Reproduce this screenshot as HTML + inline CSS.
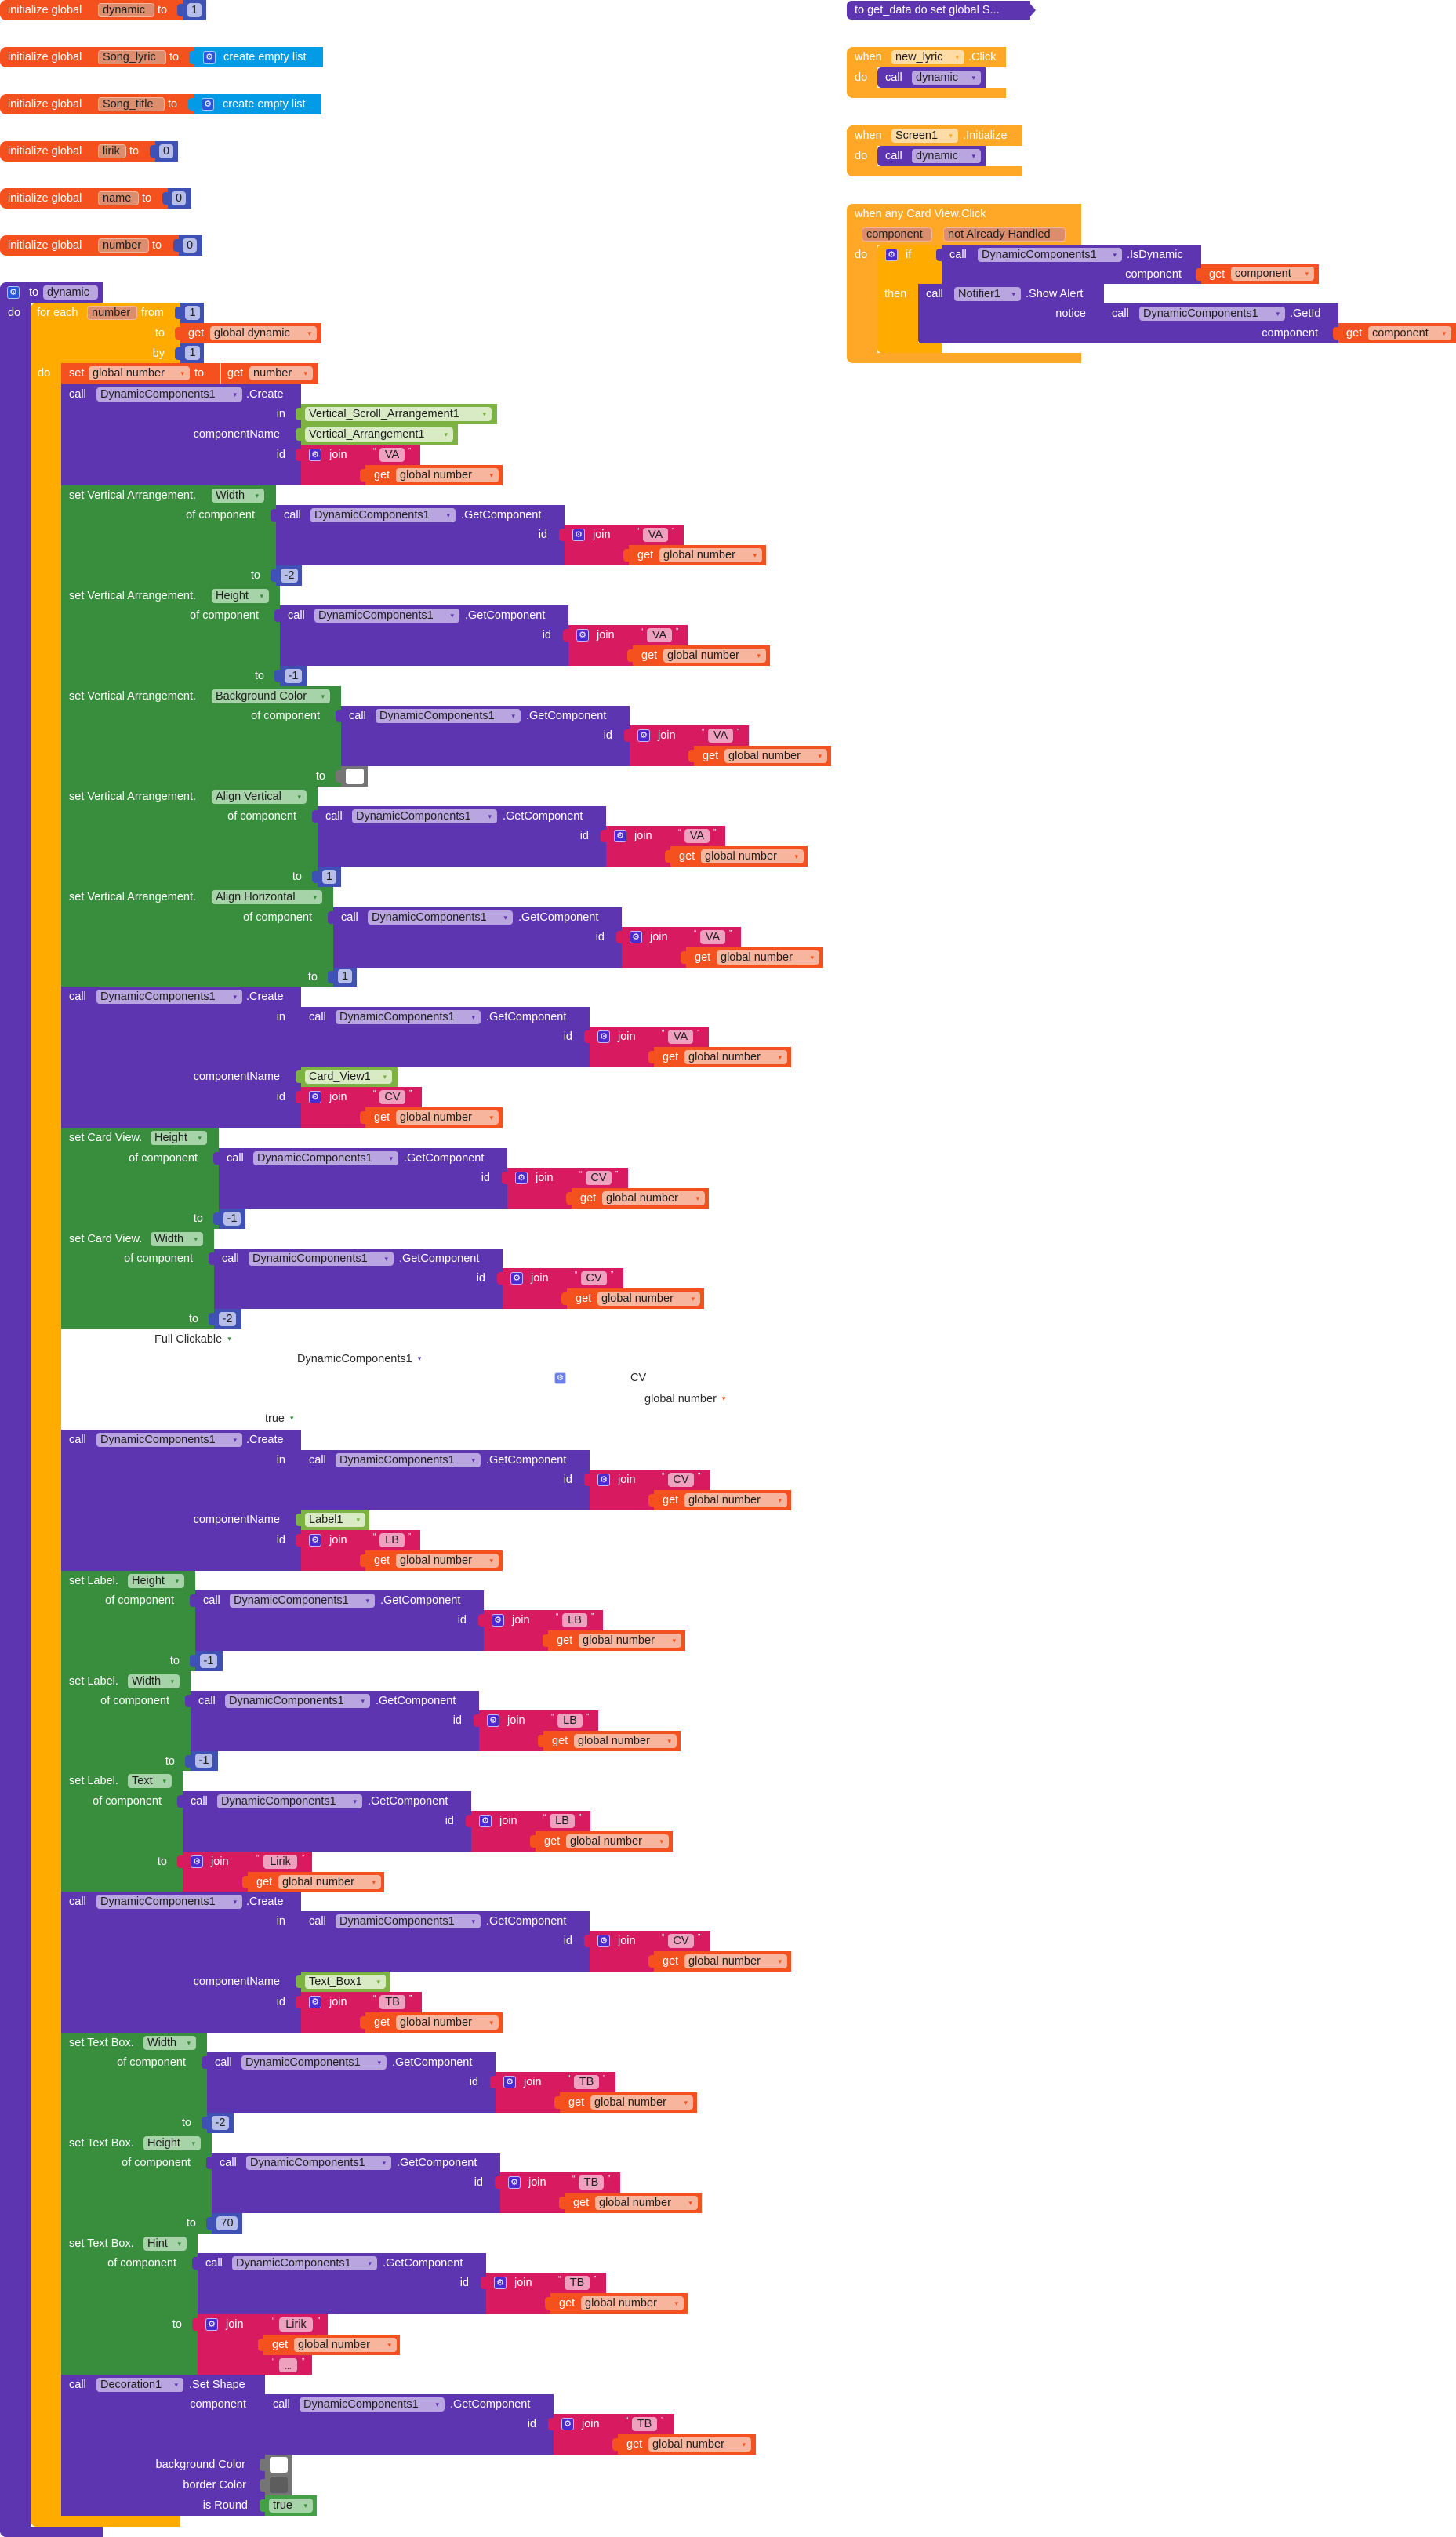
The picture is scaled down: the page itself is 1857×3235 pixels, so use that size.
<!DOCTYPE html>
<html><head><meta charset="utf-8">
<style>
*{margin:0;padding:0}
body{width:1857px;height:3235px;position:relative;overflow:hidden;background:#fff;font-family:"Liberation Sans",Arial,sans-serif;font-size:14.5px}
.r{position:absolute}
.v::before{content:"";position:absolute;left:-7px;top:5px;width:8px;height:16px;background:inherit;border-radius:4px 0 0 4px}
.t{position:absolute;color:#fff;line-height:26px;height:26px;white-space:nowrap}
.k{position:absolute;color:#2a2a2a;line-height:26px;white-space:nowrap}
.k i{font-style:normal;font-size:9px;margin-left:7px;vertical-align:2px}
.f{position:absolute;height:18px;line-height:18px;border-radius:4px;color:#1e1e1e;padding-left:5px;box-sizing:border-box;white-space:nowrap;overflow:hidden}
.f i{font-style:normal;font-size:9px;position:absolute;right:7px;top:0}
.q{position:absolute;color:#fff;font-size:10px;line-height:12px}
.P{background:#5E35B1}.O{background:#F4511E}.C{background:#FFAB00}.E{background:#FFA726}
.G{background:#388E3C}.L{background:#7CB342}.M{background:#D81B60}.N{background:#3F51B5}
.B{background:#039BE5}.Y{background:#757575}.T{background:#43A047}
.fp{background:#B9A5E0}.fp i{color:#5E35B1}
.fo{background:#F8B59D}.fo i{color:#F4511E}
.fg{background:#A6D3A8}.fg i{color:#388E3C}
.fl{background:#D9EBC5}.fl i{color:#7CB342}
.fm{background:#F0A0BF;padding:0;text-align:center}
.fn{background:#B5BDE8;text-align:center;padding:0}
.ft{background:#DB8D6E;border:1px solid #F3B59C;line-height:16px}
.fe{background:#FFDBA5}.fe i{color:#FFA726}
.g{position:absolute;width:16px;height:16px;box-sizing:border-box;border-radius:3px;background:#4B2BCF;border:1px solid #C5B8F5;color:#fff;font:11px/14px "DejaVu Sans",sans-serif;text-align:center}
.gb{background:#2858D8;border-color:#A9C8F7}
</style></head><body>

<!-- initialize globals -->
<div class="r O" style="left:0;top:0;width:233px;height:26px;border-radius:8px 0 0 8px"></div>
<div class="r N v" style="left:233px;top:0;width:30px;height:26px"></div>
<span class="t" style="left:10px;top:0">initialize global</span>
<span class="f ft" style="left:125px;top:4px;width:72px">dynamic</span>
<span class="t" style="left:201px;top:0">to</span>
<span class="f fn" style="left:239px;top:4px;width:18px">1</span>

<div class="r O" style="left:0;top:60px;width:248px;height:26px;border-radius:8px 0 0 8px"></div>
<div class="r B v" style="left:248px;top:60px;width:164px;height:26px"></div>
<span class="t" style="left:10px;top:60px">initialize global</span>
<span class="f ft" style="left:125px;top:64px;width:87px">Song_lyric</span>
<span class="t" style="left:216px;top:60px">to</span>
<span class="g gb" style="left:259px;top:65px">⚙</span>
<span class="t" style="left:285px;top:60px">create empty list</span>

<div class="r O" style="left:0;top:120px;width:247px;height:26px;border-radius:8px 0 0 8px"></div>
<div class="r B v" style="left:247px;top:120px;width:163px;height:26px"></div>
<span class="t" style="left:10px;top:120px">initialize global</span>
<span class="f ft" style="left:125px;top:124px;width:85px">Song_title</span>
<span class="t" style="left:214px;top:120px">to</span>
<span class="g gb" style="left:257px;top:125px">⚙</span>
<span class="t" style="left:284px;top:120px">create empty list</span>

<div class="r O" style="left:0;top:180px;width:198px;height:26px;border-radius:8px 0 0 8px"></div>
<div class="r N v" style="left:198px;top:180px;width:29px;height:26px"></div>
<span class="t" style="left:10px;top:180px">initialize global</span>
<span class="f ft" style="left:125px;top:184px;width:36px">lirik</span>
<span class="t" style="left:165px;top:180px">to</span>
<span class="f fn" style="left:203px;top:184px;width:18px">0</span>

<div class="r O" style="left:0;top:240px;width:214px;height:26px;border-radius:8px 0 0 8px"></div>
<div class="r N v" style="left:214px;top:240px;width:30px;height:26px"></div>
<span class="t" style="left:10px;top:240px">initialize global</span>
<span class="f ft" style="left:125px;top:244px;width:52px">name</span>
<span class="t" style="left:181px;top:240px">to</span>
<span class="f fn" style="left:219px;top:244px;width:18px">0</span>

<div class="r O" style="left:0;top:300px;width:228px;height:26px;border-radius:8px 0 0 8px"></div>
<div class="r N v" style="left:228px;top:300px;width:30px;height:26px"></div>
<span class="t" style="left:10px;top:300px">initialize global</span>
<span class="f ft" style="left:125px;top:304px;width:65px">number</span>
<span class="t" style="left:194px;top:300px">to</span>
<span class="f fn" style="left:233px;top:304px;width:18px">0</span>

<!-- procedure -->
<div class="r P" style="left:0;top:360px;width:131px;height:26px;border-radius:8px 0 0 0"></div>
<div class="r P" style="left:0;top:360px;width:39px;height:2875px;border-radius:8px 0 0 8px"></div>
<div class="r P" style="left:0;top:3222px;width:131px;height:13px;border-radius:0 0 0 8px"></div>
<span class="g gb" style="left:9px;top:365px">⚙</span>
<span class="t" style="left:37px;top:360px">to</span>
<span class="f fp" style="left:55px;top:364px;width:70px">dynamic</span>
<span class="t" style="left:10px;top:386px">do</span>

<!-- for each -->
<div class="r C" style="left:39px;top:386px;width:191px;height:77px;border-radius:8px 0 0 0"></div>
<div class="r C" style="left:39px;top:386px;width:39px;height:2836px;border-radius:8px 0 0 8px"></div>
<div class="r C" style="left:39px;top:3208px;width:191px;height:14px;border-radius:0 0 0 8px"></div>
<span class="t" style="left:47px;top:386px">for each</span>
<span class="f ft" style="left:111px;top:390px;width:64px">number</span>
<span class="t" style="left:180px;top:386px">from</span>
<span class="t" style="left:0;width:210px;text-align:right;top:412px">to</span>
<span class="t" style="left:0;width:210px;text-align:right;top:438px">by</span>
<div class="r N v" style="left:230px;top:386px;width:30px;height:26px"></div>
<span class="f fn" style="left:236px;top:390px;width:19px">1</span>
<div class="r O v" style="left:230px;top:412px;width:180px;height:26px"></div>
<span class="t" style="left:240px;top:412px">get</span>
<span class="f fo" style="left:268px;top:416px;width:136px">global dynamic<i>▾</i></span>
<div class="r N v" style="left:230px;top:438px;width:30px;height:25px"></div>
<span class="f fn" style="left:236px;top:441px;width:19px">1</span>
<span class="t" style="left:48px;top:463px">do</span>

<!-- set global number -->
<div class="r O" style="left:78px;top:463px;width:203px;height:27px"></div>
<div class="r O" style="left:282px;top:463px;width:124px;height:27px"></div>
<span class="t" style="left:88px;top:463px">set</span>
<span class="f fo" style="left:113px;top:467px;width:129px">global number<i>▾</i></span>
<span class="t" style="left:248px;top:463px">to</span>
<span class="t" style="left:290px;top:463px">get</span>
<span class="f fo" style="left:318px;top:467px;width:81px">number<i>▾</i></span>

<!-- Create 1 -->
<div class="r P" style="left:78px;top:490px;width:306px;height:129px"></div>
<span class="t" style="left:88px;top:490px">call</span>
<span class="f fp" style="left:123px;top:494px;width:186px">DynamicComponents1<i>▾</i></span>
<span class="t" style="left:314px;top:490px">.Create</span>
<span class="t" style="left:0;width:364px;text-align:right;top:515px">in</span>
<span class="t" style="left:0;width:357px;text-align:right;top:541px">componentName</span>
<span class="t" style="left:0;width:364px;text-align:right;top:567px">id</span>
<div class="r L v" style="left:384px;top:515px;width:250px;height:26px"></div>
<span class="f fl" style="left:389px;top:519px;width:238px">Vertical_Scroll_Arrangement1<i>▾</i></span>
<div class="r L v" style="left:384px;top:541px;width:200px;height:26px"></div>
<span class="f fl" style="left:389px;top:545px;width:189px">Vertical_Arrangement1<i>▾</i></span>
<div class="r M v" style="left:384px;top:567px;width:82px;height:52px"></div>
<span class="g" style="left:394px;top:572px">⚙</span>
<span class="t" style="left:420px;top:567px">join</span>
<div class="r M" style="left:466px;top:567px;width:70px;height:26px"></div>
<span class="q" style="left:476px;top:570px">“</span>
<span class="f fm" style="left:484px;top:571px;width:32px">VA</span>
<span class="q" style="left:521px;top:570px">”</span>
<div class="r O v" style="left:466px;top:593px;width:175px;height:26px"></div>
<span class="t" style="left:477px;top:593px">get</span>
<span class="f fo" style="left:505px;top:597px;width:131px">global number<i>▾</i></span>

<!-- SET a: VA Width -->
<div class="r G" style="left:78px;top:619px;width:274px;height:128px"></div>
<span class="t" style="left:88px;top:619px">set Vertical Arrangement.</span>
<span class="f fg" style="left:270px;top:623px;width:67px">Width<i>▾</i></span>
<span class="t" style="left:0;width:325px;text-align:right;top:644px">of component</span>
<span class="t" style="left:0;width:332px;text-align:right;top:721px">to</span>
<div class="r N v" style="left:352px;top:721px;width:33px;height:26px"></div>
<span class="f fn" style="left:358px;top:725px;width:22px">-2</span>
<div class="r P v" style="left:352px;top:644px;width:368px;height:77px"></div>
<span class="t" style="left:362px;top:644px">call</span>
<span class="f fp" style="left:396px;top:648px;width:185px">DynamicComponents1<i>▾</i></span>
<span class="t" style="left:588px;top:644px">.GetComponent</span>
<span class="t" style="left:0;width:698px;text-align:right;top:669px">id</span>
<div class="r M v" style="left:720px;top:669px;width:82px;height:52px"></div>
<span class="g" style="left:730px;top:674px">⚙</span>
<span class="t" style="left:756px;top:669px">join</span>
<div class="r M" style="left:802px;top:669px;width:70px;height:26px"></div>
<span class="q" style="left:812px;top:672px">“</span>
<span class="f fm" style="left:820px;top:673px;width:32px">VA</span>
<span class="q" style="left:857px;top:672px">”</span>
<div class="r O v" style="left:802px;top:695px;width:175px;height:26px"></div>
<span class="t" style="left:813px;top:695px">get</span>
<span class="f fo" style="left:841px;top:699px;width:131px">global number<i>▾</i></span>

<!-- SET b: VA Height -->
<div class="r G" style="left:78px;top:747px;width:279px;height:128px"></div>
<span class="t" style="left:88px;top:747px">set Vertical Arrangement.</span>
<span class="f fg" style="left:270px;top:751px;width:73px">Height<i>▾</i></span>
<span class="t" style="left:0;width:330px;text-align:right;top:772px">of component</span>
<span class="t" style="left:0;width:337px;text-align:right;top:849px">to</span>
<div class="r N v" style="left:357px;top:849px;width:35px;height:26px"></div>
<span class="f fn" style="left:363px;top:853px;width:22px">-1</span>
<div class="r P v" style="left:357px;top:772px;width:368px;height:77px"></div>
<span class="t" style="left:367px;top:772px">call</span>
<span class="f fp" style="left:401px;top:776px;width:185px">DynamicComponents1<i>▾</i></span>
<span class="t" style="left:593px;top:772px">.GetComponent</span>
<span class="t" style="left:0;width:703px;text-align:right;top:797px">id</span>
<div class="r M v" style="left:725px;top:797px;width:82px;height:52px"></div>
<span class="g" style="left:735px;top:802px">⚙</span>
<span class="t" style="left:761px;top:797px">join</span>
<div class="r M" style="left:807px;top:797px;width:70px;height:26px"></div>
<span class="q" style="left:817px;top:800px">“</span>
<span class="f fm" style="left:825px;top:801px;width:32px">VA</span>
<span class="q" style="left:862px;top:800px">”</span>
<div class="r O v" style="left:807px;top:823px;width:175px;height:26px"></div>
<span class="t" style="left:818px;top:823px">get</span>
<span class="f fo" style="left:846px;top:827px;width:131px">global number<i>▾</i></span>

<!-- SET c: Background Color -->
<div class="r G" style="left:78px;top:875px;width:357px;height:128px"></div>
<span class="t" style="left:88px;top:875px">set Vertical Arrangement.</span>
<span class="f fg" style="left:270px;top:879px;width:151px">Background Color<i>▾</i></span>
<span class="t" style="left:0;width:408px;text-align:right;top:900px">of component</span>
<span class="t" style="left:0;width:415px;text-align:right;top:977px">to</span>
<div class="r Y v" style="left:435px;top:977px;width:34px;height:26px"></div>
<div class="r" style="left:441px;top:980px;width:23px;height:20px;background:#fff;border-radius:3px"></div>
<div class="r P v" style="left:435px;top:900px;width:368px;height:77px"></div>
<span class="t" style="left:445px;top:900px">call</span>
<span class="f fp" style="left:479px;top:904px;width:185px">DynamicComponents1<i>▾</i></span>
<span class="t" style="left:671px;top:900px">.GetComponent</span>
<span class="t" style="left:0;width:781px;text-align:right;top:925px">id</span>
<div class="r M v" style="left:803px;top:925px;width:82px;height:52px"></div>
<span class="g" style="left:813px;top:930px">⚙</span>
<span class="t" style="left:839px;top:925px">join</span>
<div class="r M" style="left:885px;top:925px;width:70px;height:26px"></div>
<span class="q" style="left:895px;top:928px">“</span>
<span class="f fm" style="left:903px;top:929px;width:32px">VA</span>
<span class="q" style="left:940px;top:928px">”</span>
<div class="r O v" style="left:885px;top:951px;width:175px;height:26px"></div>
<span class="t" style="left:896px;top:951px">get</span>
<span class="f fo" style="left:924px;top:955px;width:131px">global number<i>▾</i></span>

<!-- SET d: Align Vertical -->
<div class="r G" style="left:78px;top:1003px;width:327px;height:128px"></div>
<span class="t" style="left:88px;top:1003px">set Vertical Arrangement.</span>
<span class="f fg" style="left:270px;top:1007px;width:121px">Align Vertical<i>▾</i></span>
<span class="t" style="left:0;width:378px;text-align:right;top:1028px">of component</span>
<span class="t" style="left:0;width:385px;text-align:right;top:1105px">to</span>
<div class="r N v" style="left:405px;top:1105px;width:30px;height:26px"></div>
<span class="f fn" style="left:411px;top:1109px;width:18px">1</span>
<div class="r P v" style="left:405px;top:1028px;width:368px;height:77px"></div>
<span class="t" style="left:415px;top:1028px">call</span>
<span class="f fp" style="left:449px;top:1032px;width:185px">DynamicComponents1<i>▾</i></span>
<span class="t" style="left:641px;top:1028px">.GetComponent</span>
<span class="t" style="left:0;width:751px;text-align:right;top:1053px">id</span>
<div class="r M v" style="left:773px;top:1053px;width:82px;height:52px"></div>
<span class="g" style="left:783px;top:1058px">⚙</span>
<span class="t" style="left:809px;top:1053px">join</span>
<div class="r M" style="left:855px;top:1053px;width:70px;height:26px"></div>
<span class="q" style="left:865px;top:1056px">“</span>
<span class="f fm" style="left:873px;top:1057px;width:32px">VA</span>
<span class="q" style="left:910px;top:1056px">”</span>
<div class="r O v" style="left:855px;top:1079px;width:175px;height:26px"></div>
<span class="t" style="left:866px;top:1079px">get</span>
<span class="f fo" style="left:894px;top:1083px;width:131px">global number<i>▾</i></span>

<!-- SET e: Align Horizontal -->
<div class="r G" style="left:78px;top:1131px;width:347px;height:127px"></div>
<span class="t" style="left:88px;top:1131px">set Vertical Arrangement.</span>
<span class="f fg" style="left:270px;top:1135px;width:141px">Align Horizontal<i>▾</i></span>
<span class="t" style="left:0;width:398px;text-align:right;top:1157px">of component</span>
<span class="t" style="left:0;width:405px;text-align:right;top:1233px">to</span>
<div class="r N v" style="left:425px;top:1233px;width:30px;height:25px"></div>
<span class="f fn" style="left:431px;top:1236px;width:18px">1</span>
<div class="r P v" style="left:425px;top:1157px;width:368px;height:77px"></div>
<span class="t" style="left:435px;top:1157px">call</span>
<span class="f fp" style="left:469px;top:1161px;width:185px">DynamicComponents1<i>▾</i></span>
<span class="t" style="left:661px;top:1157px">.GetComponent</span>
<span class="t" style="left:0;width:771px;text-align:right;top:1182px">id</span>
<div class="r M v" style="left:793px;top:1182px;width:82px;height:52px"></div>
<span class="g" style="left:803px;top:1187px">⚙</span>
<span class="t" style="left:829px;top:1182px">join</span>
<div class="r M" style="left:875px;top:1182px;width:70px;height:26px"></div>
<span class="q" style="left:885px;top:1185px">“</span>
<span class="f fm" style="left:893px;top:1186px;width:32px">VA</span>
<span class="q" style="left:930px;top:1185px">”</span>
<div class="r O v" style="left:875px;top:1208px;width:175px;height:26px"></div>
<span class="t" style="left:886px;top:1208px">get</span>
<span class="f fo" style="left:914px;top:1212px;width:131px">global number<i>▾</i></span>

<!-- Create 2 -->
<div class="r P" style="left:78px;top:1258px;width:306px;height:180px"></div>
<span class="t" style="left:88px;top:1258px">call</span>
<span class="f fp" style="left:123px;top:1262px;width:186px">DynamicComponents1<i>▾</i></span>
<span class="t" style="left:314px;top:1258px">.Create</span>
<span class="t" style="left:0;width:364px;text-align:right;top:1284px">in</span>
<span class="t" style="left:0;width:357px;text-align:right;top:1360px">componentName</span>
<span class="t" style="left:0;width:364px;text-align:right;top:1386px">id</span>
<div class="r P" style="left:384px;top:1284px;width:368px;height:77px"></div>
<span class="t" style="left:394px;top:1284px">call</span>
<span class="f fp" style="left:428px;top:1288px;width:185px">DynamicComponents1<i>▾</i></span>
<span class="t" style="left:620px;top:1284px">.GetComponent</span>
<span class="t" style="left:0;width:730px;text-align:right;top:1309px">id</span>
<div class="r M v" style="left:752px;top:1309px;width:82px;height:52px"></div>
<span class="g" style="left:762px;top:1314px">⚙</span>
<span class="t" style="left:788px;top:1309px">join</span>
<div class="r M" style="left:834px;top:1309px;width:70px;height:26px"></div>
<span class="q" style="left:844px;top:1312px">“</span>
<span class="f fm" style="left:852px;top:1313px;width:32px">VA</span>
<span class="q" style="left:889px;top:1312px">”</span>
<div class="r O v" style="left:834px;top:1335px;width:175px;height:26px"></div>
<span class="t" style="left:845px;top:1335px">get</span>
<span class="f fo" style="left:873px;top:1339px;width:131px">global number<i>▾</i></span>
<div class="r L v" style="left:384px;top:1360px;width:123px;height:26px"></div>
<span class="f fl" style="left:389px;top:1364px;width:111px">Card_View1<i>▾</i></span>
<div class="r M v" style="left:384px;top:1386px;width:82px;height:52px"></div>
<span class="g" style="left:394px;top:1391px">⚙</span>
<span class="t" style="left:420px;top:1386px">join</span>
<div class="r M" style="left:466px;top:1386px;width:72px;height:26px"></div>
<span class="q" style="left:476px;top:1389px">“</span>
<span class="f fm" style="left:484px;top:1390px;width:33px">CV</span>
<span class="q" style="left:522px;top:1389px">”</span>
<div class="r O v" style="left:466px;top:1412px;width:175px;height:26px"></div>
<span class="t" style="left:477px;top:1412px">get</span>
<span class="f fo" style="left:505px;top:1416px;width:131px">global number<i>▾</i></span>

<!-- SET g: Card View Height -->
<div class="r G" style="left:78px;top:1438px;width:201px;height:129px"></div>
<span class="t" style="left:88px;top:1438px">set Card View.</span>
<span class="f fg" style="left:192px;top:1442px;width:72px">Height<i>▾</i></span>
<span class="t" style="left:0;width:252px;text-align:right;top:1464px">of component</span>
<span class="t" style="left:0;width:259px;text-align:right;top:1541px">to</span>
<div class="r N v" style="left:279px;top:1541px;width:34px;height:26px"></div>
<span class="f fn" style="left:285px;top:1545px;width:22px">-1</span>
<div class="r P v" style="left:279px;top:1464px;width:368px;height:77px"></div>
<span class="t" style="left:289px;top:1464px">call</span>
<span class="f fp" style="left:323px;top:1468px;width:185px">DynamicComponents1<i>▾</i></span>
<span class="t" style="left:515px;top:1464px">.GetComponent</span>
<span class="t" style="left:0;width:625px;text-align:right;top:1489px">id</span>
<div class="r M v" style="left:647px;top:1489px;width:82px;height:52px"></div>
<span class="g" style="left:657px;top:1494px">⚙</span>
<span class="t" style="left:683px;top:1489px">join</span>
<div class="r M" style="left:729px;top:1489px;width:72px;height:26px"></div>
<span class="q" style="left:739px;top:1492px">“</span>
<span class="f fm" style="left:747px;top:1493px;width:33px">CV</span>
<span class="q" style="left:785px;top:1492px">”</span>
<div class="r O v" style="left:729px;top:1515px;width:175px;height:26px"></div>
<span class="t" style="left:740px;top:1515px">get</span>
<span class="f fo" style="left:768px;top:1519px;width:131px">global number<i>▾</i></span>

<!-- SET h: Card View Width -->
<div class="r G" style="left:78px;top:1567px;width:195px;height:128px"></div>
<span class="t" style="left:88px;top:1567px">set Card View.</span>
<span class="f fg" style="left:192px;top:1571px;width:67px">Width<i>▾</i></span>
<span class="t" style="left:0;width:246px;text-align:right;top:1592px">of component</span>
<span class="t" style="left:0;width:253px;text-align:right;top:1669px">to</span>
<div class="r N v" style="left:273px;top:1669px;width:35px;height:26px"></div>
<span class="f fn" style="left:279px;top:1673px;width:22px">-2</span>
<div class="r P v" style="left:273px;top:1592px;width:368px;height:77px"></div>
<span class="t" style="left:283px;top:1592px">call</span>
<span class="f fp" style="left:317px;top:1596px;width:185px">DynamicComponents1<i>▾</i></span>
<span class="t" style="left:509px;top:1592px">.GetComponent</span>
<span class="t" style="left:0;width:619px;text-align:right;top:1617px">id</span>
<div class="r M v" style="left:641px;top:1617px;width:82px;height:52px"></div>
<span class="g" style="left:651px;top:1622px">⚙</span>
<span class="t" style="left:677px;top:1617px">join</span>
<div class="r M" style="left:723px;top:1617px;width:72px;height:26px"></div>
<span class="q" style="left:733px;top:1620px">“</span>
<span class="f fm" style="left:741px;top:1621px;width:33px">CV</span>
<span class="q" style="left:779px;top:1620px">”</span>
<div class="r O v" style="left:723px;top:1643px;width:175px;height:26px"></div>
<span class="t" style="left:734px;top:1643px">get</span>
<span class="f fo" style="left:762px;top:1647px;width:131px">global number<i>▾</i></span>

<!-- floating texts -->
<span class="k" style="left:197px;top:1694px">Full Clickable<i style="color:#388E3C">▾</i></span>
<span class="k" style="left:379px;top:1719px">DynamicComponents1<i style="color:#5E35B1">▾</i></span>
<span class="g" style="left:707px;top:1750px;width:15px;height:15px;background:#6C7FE8;border-color:#C9D0F7;line-height:13px;font-size:10px">⚙</span>
<span class="k" style="left:804px;top:1744px">CV</span>
<span class="k" style="left:822px;top:1770px">global number<i style="color:#F4511E">▾</i></span>
<span class="k" style="left:338px;top:1795px">true<i style="color:#388E3C">▾</i></span>

<!-- Create 3 -->
<div class="r P" style="left:78px;top:1823px;width:306px;height:180px"></div>
<span class="t" style="left:88px;top:1823px">call</span>
<span class="f fp" style="left:123px;top:1827px;width:186px">DynamicComponents1<i>▾</i></span>
<span class="t" style="left:314px;top:1823px">.Create</span>
<span class="t" style="left:0;width:364px;text-align:right;top:1849px">in</span>
<span class="t" style="left:0;width:357px;text-align:right;top:1925px">componentName</span>
<span class="t" style="left:0;width:364px;text-align:right;top:1951px">id</span>
<div class="r P" style="left:384px;top:1849px;width:368px;height:77px"></div>
<span class="t" style="left:394px;top:1849px">call</span>
<span class="f fp" style="left:428px;top:1853px;width:185px">DynamicComponents1<i>▾</i></span>
<span class="t" style="left:620px;top:1849px">.GetComponent</span>
<span class="t" style="left:0;width:730px;text-align:right;top:1874px">id</span>
<div class="r M v" style="left:752px;top:1874px;width:82px;height:52px"></div>
<span class="g" style="left:762px;top:1879px">⚙</span>
<span class="t" style="left:788px;top:1874px">join</span>
<div class="r M" style="left:834px;top:1874px;width:72px;height:26px"></div>
<span class="q" style="left:844px;top:1877px">“</span>
<span class="f fm" style="left:852px;top:1878px;width:33px">CV</span>
<span class="q" style="left:890px;top:1877px">”</span>
<div class="r O v" style="left:834px;top:1900px;width:175px;height:26px"></div>
<span class="t" style="left:845px;top:1900px">get</span>
<span class="f fo" style="left:873px;top:1904px;width:131px">global number<i>▾</i></span>
<div class="r L v" style="left:384px;top:1925px;width:87px;height:26px"></div>
<span class="f fl" style="left:389px;top:1929px;width:77px">Label1<i>▾</i></span>
<div class="r M v" style="left:384px;top:1951px;width:82px;height:52px"></div>
<span class="g" style="left:394px;top:1956px">⚙</span>
<span class="t" style="left:420px;top:1951px">join</span>
<div class="r M" style="left:466px;top:1951px;width:70px;height:26px"></div>
<span class="q" style="left:476px;top:1954px">“</span>
<span class="f fm" style="left:484px;top:1955px;width:32px">LB</span>
<span class="q" style="left:521px;top:1954px">”</span>
<div class="r O v" style="left:466px;top:1977px;width:175px;height:26px"></div>
<span class="t" style="left:477px;top:1977px">get</span>
<span class="f fo" style="left:505px;top:1981px;width:131px">global number<i>▾</i></span>

<!-- SET k: Label Height -->
<div class="r G" style="left:78px;top:2003px;width:171px;height:128px"></div>
<span class="t" style="left:88px;top:2003px">set Label.</span>
<span class="f fg" style="left:163px;top:2007px;width:72px">Height<i>▾</i></span>
<span class="t" style="left:0;width:222px;text-align:right;top:2028px">of component</span>
<span class="t" style="left:0;width:229px;text-align:right;top:2105px">to</span>
<div class="r N v" style="left:249px;top:2105px;width:35px;height:26px"></div>
<span class="f fn" style="left:255px;top:2109px;width:22px">-1</span>
<div class="r P v" style="left:249px;top:2028px;width:368px;height:77px"></div>
<span class="t" style="left:259px;top:2028px">call</span>
<span class="f fp" style="left:293px;top:2032px;width:185px">DynamicComponents1<i>▾</i></span>
<span class="t" style="left:485px;top:2028px">.GetComponent</span>
<span class="t" style="left:0;width:595px;text-align:right;top:2053px">id</span>
<div class="r M v" style="left:617px;top:2053px;width:82px;height:52px"></div>
<span class="g" style="left:627px;top:2058px">⚙</span>
<span class="t" style="left:653px;top:2053px">join</span>
<div class="r M" style="left:699px;top:2053px;width:70px;height:26px"></div>
<span class="q" style="left:709px;top:2056px">“</span>
<span class="f fm" style="left:717px;top:2057px;width:32px">LB</span>
<span class="q" style="left:754px;top:2056px">”</span>
<div class="r O v" style="left:699px;top:2079px;width:175px;height:26px"></div>
<span class="t" style="left:710px;top:2079px">get</span>
<span class="f fo" style="left:738px;top:2083px;width:131px">global number<i>▾</i></span>

<!-- SET l: Label Width -->
<div class="r G" style="left:78px;top:2131px;width:165px;height:127px"></div>
<span class="t" style="left:88px;top:2131px">set Label.</span>
<span class="f fg" style="left:163px;top:2135px;width:66px">Width<i>▾</i></span>
<span class="t" style="left:0;width:216px;text-align:right;top:2156px">of component</span>
<span class="t" style="left:0;width:223px;text-align:right;top:2233px">to</span>
<div class="r N v" style="left:243px;top:2233px;width:35px;height:25px"></div>
<span class="f fn" style="left:249px;top:2236px;width:22px">-1</span>
<div class="r P v" style="left:243px;top:2156px;width:368px;height:77px"></div>
<span class="t" style="left:253px;top:2156px">call</span>
<span class="f fp" style="left:287px;top:2160px;width:185px">DynamicComponents1<i>▾</i></span>
<span class="t" style="left:479px;top:2156px">.GetComponent</span>
<span class="t" style="left:0;width:589px;text-align:right;top:2181px">id</span>
<div class="r M v" style="left:611px;top:2181px;width:82px;height:52px"></div>
<span class="g" style="left:621px;top:2186px">⚙</span>
<span class="t" style="left:647px;top:2181px">join</span>
<div class="r M" style="left:693px;top:2181px;width:70px;height:26px"></div>
<span class="q" style="left:703px;top:2184px">“</span>
<span class="f fm" style="left:711px;top:2185px;width:32px">LB</span>
<span class="q" style="left:748px;top:2184px">”</span>
<div class="r O v" style="left:693px;top:2207px;width:175px;height:26px"></div>
<span class="t" style="left:704px;top:2207px">get</span>
<span class="f fo" style="left:732px;top:2211px;width:131px">global number<i>▾</i></span>

<!-- SET m: Label Text -->
<div class="r G" style="left:78px;top:2258px;width:155px;height:155px"></div>
<span class="t" style="left:88px;top:2258px">set Label.</span>
<span class="f fg" style="left:163px;top:2262px;width:56px">Text<i>▾</i></span>
<span class="t" style="left:0;width:206px;text-align:right;top:2284px">of component</span>
<span class="t" style="left:0;width:213px;text-align:right;top:2361px">to</span>
<div class="r P v" style="left:233px;top:2284px;width:368px;height:77px"></div>
<span class="t" style="left:243px;top:2284px">call</span>
<span class="f fp" style="left:277px;top:2288px;width:185px">DynamicComponents1<i>▾</i></span>
<span class="t" style="left:469px;top:2284px">.GetComponent</span>
<span class="t" style="left:0;width:579px;text-align:right;top:2309px">id</span>
<div class="r M v" style="left:601px;top:2309px;width:82px;height:52px"></div>
<span class="g" style="left:611px;top:2314px">⚙</span>
<span class="t" style="left:637px;top:2309px">join</span>
<div class="r M" style="left:683px;top:2309px;width:70px;height:26px"></div>
<span class="q" style="left:693px;top:2312px">“</span>
<span class="f fm" style="left:701px;top:2313px;width:32px">LB</span>
<span class="q" style="left:738px;top:2312px">”</span>
<div class="r O v" style="left:683px;top:2335px;width:175px;height:26px"></div>
<span class="t" style="left:694px;top:2335px">get</span>
<span class="f fo" style="left:722px;top:2339px;width:131px">global number<i>▾</i></span>
<div class="r M v" style="left:233px;top:2361px;width:83px;height:52px"></div>
<span class="g" style="left:243px;top:2366px">⚙</span>
<span class="t" style="left:269px;top:2361px">join</span>
<div class="r M" style="left:316px;top:2361px;width:82px;height:26px"></div>
<span class="q" style="left:327px;top:2364px">“</span>
<span class="f fm" style="left:336px;top:2365px;width:43px">Lirik</span>
<span class="q" style="left:385px;top:2364px">”</span>
<div class="r O v" style="left:316px;top:2387px;width:174px;height:26px"></div>
<span class="t" style="left:327px;top:2387px">get</span>
<span class="f fo" style="left:355px;top:2391px;width:131px">global number<i>▾</i></span>

<!-- Create 4 -->
<div class="r P" style="left:78px;top:2412px;width:306px;height:180px"></div>
<span class="t" style="left:88px;top:2412px">call</span>
<span class="f fp" style="left:123px;top:2416px;width:186px">DynamicComponents1<i>▾</i></span>
<span class="t" style="left:314px;top:2412px">.Create</span>
<span class="t" style="left:0;width:364px;text-align:right;top:2437px">in</span>
<span class="t" style="left:0;width:357px;text-align:right;top:2514px">componentName</span>
<span class="t" style="left:0;width:364px;text-align:right;top:2540px">id</span>
<div class="r P" style="left:384px;top:2437px;width:368px;height:77px"></div>
<span class="t" style="left:394px;top:2437px">call</span>
<span class="f fp" style="left:428px;top:2441px;width:185px">DynamicComponents1<i>▾</i></span>
<span class="t" style="left:620px;top:2437px">.GetComponent</span>
<span class="t" style="left:0;width:730px;text-align:right;top:2462px">id</span>
<div class="r M v" style="left:752px;top:2462px;width:82px;height:52px"></div>
<span class="g" style="left:762px;top:2467px">⚙</span>
<span class="t" style="left:788px;top:2462px">join</span>
<div class="r M" style="left:834px;top:2462px;width:72px;height:26px"></div>
<span class="q" style="left:844px;top:2465px">“</span>
<span class="f fm" style="left:852px;top:2466px;width:33px">CV</span>
<span class="q" style="left:890px;top:2465px">”</span>
<div class="r O v" style="left:834px;top:2488px;width:175px;height:26px"></div>
<span class="t" style="left:845px;top:2488px">get</span>
<span class="f fo" style="left:873px;top:2492px;width:131px">global number<i>▾</i></span>
<div class="r L v" style="left:384px;top:2514px;width:113px;height:26px"></div>
<span class="f fl" style="left:389px;top:2518px;width:103px">Text_Box1<i>▾</i></span>
<div class="r M v" style="left:384px;top:2540px;width:82px;height:52px"></div>
<span class="g" style="left:394px;top:2545px">⚙</span>
<span class="t" style="left:420px;top:2540px">join</span>
<div class="r M" style="left:466px;top:2540px;width:72px;height:26px"></div>
<span class="q" style="left:476px;top:2543px">“</span>
<span class="f fm" style="left:484px;top:2544px;width:33px">TB</span>
<span class="q" style="left:522px;top:2543px">”</span>
<div class="r O v" style="left:466px;top:2566px;width:175px;height:26px"></div>
<span class="t" style="left:477px;top:2566px">get</span>
<span class="f fo" style="left:505px;top:2570px;width:131px">global number<i>▾</i></span>

<!-- SET o: Text Box Width -->
<div class="r G" style="left:78px;top:2592px;width:186px;height:128px"></div>
<span class="t" style="left:88px;top:2592px">set Text Box.</span>
<span class="f fg" style="left:183px;top:2596px;width:67px">Width<i>▾</i></span>
<span class="t" style="left:0;width:237px;text-align:right;top:2617px">of component</span>
<span class="t" style="left:0;width:244px;text-align:right;top:2694px">to</span>
<div class="r N v" style="left:264px;top:2694px;width:34px;height:26px"></div>
<span class="f fn" style="left:270px;top:2698px;width:22px">-2</span>
<div class="r P v" style="left:264px;top:2617px;width:368px;height:77px"></div>
<span class="t" style="left:274px;top:2617px">call</span>
<span class="f fp" style="left:308px;top:2621px;width:185px">DynamicComponents1<i>▾</i></span>
<span class="t" style="left:500px;top:2617px">.GetComponent</span>
<span class="t" style="left:0;width:610px;text-align:right;top:2642px">id</span>
<div class="r M v" style="left:632px;top:2642px;width:82px;height:52px"></div>
<span class="g" style="left:642px;top:2647px">⚙</span>
<span class="t" style="left:668px;top:2642px">join</span>
<div class="r M" style="left:714px;top:2642px;width:71px;height:26px"></div>
<span class="q" style="left:724px;top:2645px">“</span>
<span class="f fm" style="left:732px;top:2646px;width:32px">TB</span>
<span class="q" style="left:769px;top:2645px">”</span>
<div class="r O v" style="left:714px;top:2668px;width:175px;height:26px"></div>
<span class="t" style="left:725px;top:2668px">get</span>
<span class="f fo" style="left:753px;top:2672px;width:131px">global number<i>▾</i></span>

<!-- SET p: Text Box Height -->
<div class="r G" style="left:78px;top:2720px;width:192px;height:128px"></div>
<span class="t" style="left:88px;top:2720px">set Text Box.</span>
<span class="f fg" style="left:183px;top:2724px;width:73px">Height<i>▾</i></span>
<span class="t" style="left:0;width:243px;text-align:right;top:2745px">of component</span>
<span class="t" style="left:0;width:250px;text-align:right;top:2822px">to</span>
<div class="r N v" style="left:270px;top:2822px;width:39px;height:26px"></div>
<span class="f fn" style="left:276px;top:2826px;width:27px">70</span>
<div class="r P v" style="left:270px;top:2745px;width:368px;height:77px"></div>
<span class="t" style="left:280px;top:2745px">call</span>
<span class="f fp" style="left:314px;top:2749px;width:185px">DynamicComponents1<i>▾</i></span>
<span class="t" style="left:506px;top:2745px">.GetComponent</span>
<span class="t" style="left:0;width:616px;text-align:right;top:2770px">id</span>
<div class="r M v" style="left:638px;top:2770px;width:82px;height:52px"></div>
<span class="g" style="left:648px;top:2775px">⚙</span>
<span class="t" style="left:674px;top:2770px">join</span>
<div class="r M" style="left:720px;top:2770px;width:71px;height:26px"></div>
<span class="q" style="left:730px;top:2773px">“</span>
<span class="f fm" style="left:738px;top:2774px;width:32px">TB</span>
<span class="q" style="left:775px;top:2773px">”</span>
<div class="r O v" style="left:720px;top:2796px;width:175px;height:26px"></div>
<span class="t" style="left:731px;top:2796px">get</span>
<span class="f fo" style="left:759px;top:2800px;width:131px">global number<i>▾</i></span>

<!-- SET q: Text Box Hint -->
<div class="r G" style="left:78px;top:2848px;width:174px;height:180px"></div>
<span class="t" style="left:88px;top:2848px">set Text Box.</span>
<span class="f fg" style="left:183px;top:2852px;width:55px">Hint<i>▾</i></span>
<span class="t" style="left:0;width:225px;text-align:right;top:2873px">of component</span>
<span class="t" style="left:0;width:232px;text-align:right;top:2951px">to</span>
<div class="r P v" style="left:252px;top:2873px;width:368px;height:78px"></div>
<span class="t" style="left:262px;top:2873px">call</span>
<span class="f fp" style="left:296px;top:2877px;width:185px">DynamicComponents1<i>▾</i></span>
<span class="t" style="left:488px;top:2873px">.GetComponent</span>
<span class="t" style="left:0;width:598px;text-align:right;top:2898px">id</span>
<div class="r M v" style="left:620px;top:2898px;width:82px;height:53px"></div>
<span class="g" style="left:630px;top:2903px">⚙</span>
<span class="t" style="left:656px;top:2898px">join</span>
<div class="r M" style="left:702px;top:2898px;width:71px;height:26px"></div>
<span class="q" style="left:712px;top:2901px">“</span>
<span class="f fm" style="left:720px;top:2902px;width:32px">TB</span>
<span class="q" style="left:757px;top:2901px">”</span>
<div class="r O v" style="left:702px;top:2924px;width:175px;height:27px"></div>
<span class="t" style="left:713px;top:2924px">get</span>
<span class="f fo" style="left:741px;top:2928px;width:131px">global number<i>▾</i></span>
<div class="r M v" style="left:252px;top:2951px;width:84px;height:77px"></div>
<span class="g" style="left:262px;top:2956px">⚙</span>
<span class="t" style="left:288px;top:2951px">join</span>
<div class="r M" style="left:336px;top:2951px;width:82px;height:26px"></div>
<span class="q" style="left:347px;top:2954px">“</span>
<span class="f fm" style="left:356px;top:2955px;width:43px">Lirik</span>
<span class="q" style="left:405px;top:2954px">”</span>
<div class="r O v" style="left:336px;top:2977px;width:174px;height:26px"></div>
<span class="t" style="left:347px;top:2977px">get</span>
<span class="f fo" style="left:375px;top:2981px;width:131px">global number<i>▾</i></span>
<div class="r M" style="left:336px;top:3003px;width:62px;height:25px"></div>
<span class="q" style="left:347px;top:3006px">“</span>
<span class="f fm" style="left:356px;top:3007px;width:23px;font-size:10px;line-height:24px">...</span>
<span class="q" style="left:385px;top:3006px">”</span>

<!-- Decoration Set Shape -->
<div class="r P" style="left:78px;top:3028px;width:260px;height:180px"></div>
<span class="t" style="left:88px;top:3028px">call</span>
<span class="f fp" style="left:123px;top:3032px;width:111px">Decoration1<i>▾</i></span>
<span class="t" style="left:241px;top:3028px">.Set Shape</span>
<span class="t" style="left:0;width:314px;text-align:right;top:3053px">component</span>
<span class="t" style="left:0;width:313px;text-align:right;top:3130px">background Color</span>
<span class="t" style="left:0;width:314px;text-align:right;top:3156px">border Color</span>
<span class="t" style="left:0;width:316px;text-align:right;top:3182px">is Round</span>
<div class="r P" style="left:338px;top:3053px;width:368px;height:77px"></div>
<span class="t" style="left:348px;top:3053px">call</span>
<span class="f fp" style="left:382px;top:3057px;width:185px">DynamicComponents1<i>▾</i></span>
<span class="t" style="left:574px;top:3053px">.GetComponent</span>
<span class="t" style="left:0;width:684px;text-align:right;top:3078px">id</span>
<div class="r M v" style="left:706px;top:3078px;width:82px;height:52px"></div>
<span class="g" style="left:716px;top:3083px">⚙</span>
<span class="t" style="left:742px;top:3078px">join</span>
<div class="r M" style="left:788px;top:3078px;width:72px;height:26px"></div>
<span class="q" style="left:798px;top:3081px">“</span>
<span class="f fm" style="left:806px;top:3082px;width:32px">TB</span>
<span class="q" style="left:843px;top:3081px">”</span>
<div class="r O v" style="left:788px;top:3104px;width:176px;height:26px"></div>
<span class="t" style="left:799px;top:3104px">get</span>
<span class="f fo" style="left:827px;top:3108px;width:131px">global number<i>▾</i></span>
<div class="r Y v" style="left:338px;top:3130px;width:35px;height:26px"></div>
<div class="r" style="left:344px;top:3133px;width:23px;height:20px;background:#fff;border-radius:3px"></div>
<div class="r Y v" style="left:338px;top:3156px;width:35px;height:26px"></div>
<div class="r" style="left:344px;top:3159px;width:23px;height:20px;background:#5d5d5d;border-radius:3px"></div>
<div class="r T v" style="left:338px;top:3182px;width:66px;height:26px"></div>
<span class="f fg" style="left:343px;top:3186px;width:56px">true<i>▾</i></span>

<!-- RIGHT SIDE -->
<div class="r P" style="left:1080px;top:1px;width:241px;height:24px;border-radius:6px 0 0 6px;clip-path:polygon(0 0,234px 0,234px 4px,241px 12px,234px 20px,234px 100%,0 100%)"></div>
<span class="t" style="left:1090px;top:0">to get_data do set global S...</span>

<div class="r E" style="left:1080px;top:60px;width:203px;height:26px;border-radius:8px 0 0 0"></div>
<div class="r E" style="left:1080px;top:60px;width:39px;height:65px;border-radius:8px 0 0 8px"></div>
<div class="r E" style="left:1080px;top:112px;width:203px;height:13px;border-radius:0 0 0 8px"></div>
<span class="t" style="left:1090px;top:60px">when</span>
<span class="f fe" style="left:1137px;top:64px;width:93px">new_lyric<i>▾</i></span>
<span class="t" style="left:1235px;top:60px">.Click</span>
<span class="t" style="left:1090px;top:86px">do</span>
<div class="r P" style="left:1119px;top:86px;width:138px;height:26px;border-radius:5px 0 0 5px"></div>
<span class="t" style="left:1129px;top:86px">call</span>
<span class="f fp" style="left:1163px;top:90px;width:88px">dynamic<i>▾</i></span>

<div class="r E" style="left:1080px;top:160px;width:224px;height:26px;border-radius:8px 0 0 0"></div>
<div class="r E" style="left:1080px;top:160px;width:39px;height:65px;border-radius:8px 0 0 8px"></div>
<div class="r E" style="left:1080px;top:212px;width:224px;height:13px;border-radius:0 0 0 8px"></div>
<span class="t" style="left:1090px;top:160px">when</span>
<span class="f fe" style="left:1137px;top:164px;width:85px">Screen1<i>▾</i></span>
<span class="t" style="left:1228px;top:160px">.Initialize</span>
<span class="t" style="left:1090px;top:186px">do</span>
<div class="r P" style="left:1119px;top:186px;width:138px;height:26px;border-radius:5px 0 0 5px"></div>
<span class="t" style="left:1129px;top:186px">call</span>
<span class="f fp" style="left:1163px;top:190px;width:88px">dynamic<i>▾</i></span>

<div class="r E" style="left:1080px;top:260px;width:299px;height:52px;border-radius:8px 0 0 0"></div>
<div class="r E" style="left:1080px;top:260px;width:39px;height:203px;border-radius:8px 0 0 8px"></div>
<div class="r E" style="left:1080px;top:450px;width:299px;height:13px;border-radius:0 0 0 8px"></div>
<span class="t" style="left:1090px;top:260px">when any Card View.Click</span>
<span class="f ft" style="left:1099px;top:290px;width:90px">component</span>
<span class="f ft" style="left:1203px;top:290px;width:156px">not Already Handled</span>
<span class="t" style="left:1090px;top:312px">do</span>
<div class="r C" style="left:1119px;top:312px;width:82px;height:50px;border-radius:6px 0 0 0"></div>
<div class="r C" style="left:1119px;top:312px;width:52px;height:138px;border-radius:6px 0 0 6px"></div>
<div class="r C" style="left:1119px;top:438px;width:82px;height:12px;border-radius:0 0 0 6px"></div>
<span class="g" style="left:1129px;top:317px">⚙</span>
<span class="t" style="left:1155px;top:312px">if</span>
<span class="t" style="left:1128px;top:362px">then</span>
<div class="r P v" style="left:1201px;top:312px;width:331px;height:50px"></div>
<span class="t" style="left:1211px;top:312px">call</span>
<span class="f fp" style="left:1247px;top:316px;width:184px">DynamicComponents1<i>▾</i></span>
<span class="t" style="left:1437px;top:312px">.IsDynamic</span>
<span class="t" style="left:0;width:1507px;text-align:right;top:337px">component</span>
<div class="r O v" style="left:1532px;top:337px;width:150px;height:25px"></div>
<span class="t" style="left:1542px;top:337px">get</span>
<span class="f fo" style="left:1570px;top:340px;width:106px">component<i>▾</i></span>
<div class="r P" style="left:1171px;top:362px;width:237px;height:76px;border-radius:0 0 0 4px"></div>
<span class="t" style="left:1181px;top:362px">call</span>
<span class="f fp" style="left:1217px;top:366px;width:85px">Notifier1<i>▾</i></span>
<span class="t" style="left:1308px;top:362px">.Show Alert</span>
<span class="t" style="left:0;width:1385px;text-align:right;top:387px">notice</span>
<div class="r P" style="left:1408px;top:387px;width:299px;height:51px"></div>
<span class="t" style="left:1418px;top:387px">call</span>
<span class="f fp" style="left:1453px;top:391px;width:186px">DynamicComponents1<i>▾</i></span>
<span class="t" style="left:1645px;top:387px">.GetId</span>
<span class="t" style="left:0;width:1681px;text-align:right;top:412px">component</span>
<div class="r O v" style="left:1707px;top:412px;width:150px;height:26px"></div>
<span class="t" style="left:1717px;top:412px">get</span>
<span class="f fo" style="left:1745px;top:416px;width:106px">component<i>▾</i></span>

</body></html>
